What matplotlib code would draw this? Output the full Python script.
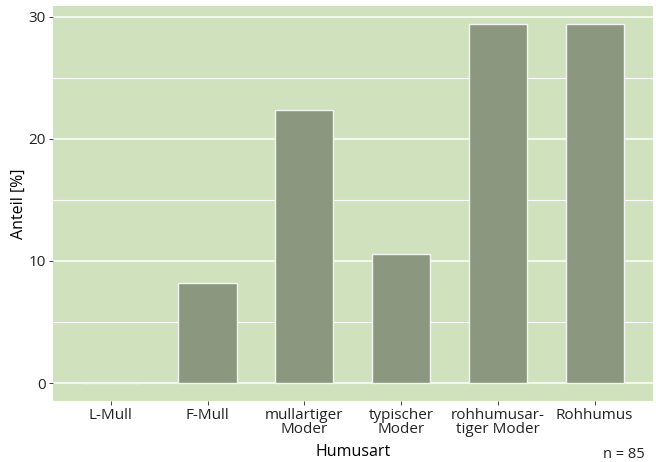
import matplotlib
matplotlib.use("Agg")
import matplotlib.pyplot as plt
from matplotlib.ticker import MultipleLocator

# Daten
humusarten = ["L-Mull", "F-Mull", "mullartiger\nModer", "typischer\nModer",
              "rohhumusar-\ntiger Moder", "Rohhumus"]
anzahl = [0, 7, 19, 9, 25, 25]
n_gesamt = 85
anteil = [a / n_gesamt * 100 for a in anzahl]

plt.rcParams['font.family'] = ['Open Sans', 'DejaVu Sans']

fig = plt.figure(figsize=(6.56, 4.62), dpi=100)
ax = fig.add_axes([0.0803, 0.132, 0.9147, 0.855])

ax.set_facecolor('#cfe2bd')
x = range(len(humusarten))
ax.bar(x, anteil, width=0.6, color='#8b977e', edgecolor='#f4f4f4', linewidth=1.0, zorder=3)

ax.set_xlim(-0.6, len(humusarten) - 0.4)
ax.set_ylim(-0.05 * max(anteil), max(anteil) * 1.05)
ax.yaxis.set_major_locator(MultipleLocator(10))
ax.yaxis.set_minor_locator(MultipleLocator(5))
ax.grid(axis='y', which='major', color='white', linewidth=1.1, zorder=0)
ax.grid(axis='y', which='minor', color='white', linewidth=0.8, zorder=0)
ax.set_axisbelow(True)

ax.set_xticks(list(x))
ax.set_xticklabels(humusarten, linespacing=0.95)
ax.tick_params(axis='both', which='major', length=3, width=0.7, color='#444444',
               labelsize=11, labelcolor='#222222', pad=2)
ax.tick_params(axis='y', which='minor', length=0)

for s in ax.spines.values():
    s.set_visible(False)

ax.set_xlabel('Humusart', fontsize=11.5, labelpad=5)
ax.set_ylabel('Anteil [%]', fontsize=11.5, labelpad=1)
fig.text(0.983, 0.0, f'n = {n_gesamt}', ha='right', va='bottom', fontsize=10.5, color='#222222')

fig.savefig('out.png', dpi=100)
